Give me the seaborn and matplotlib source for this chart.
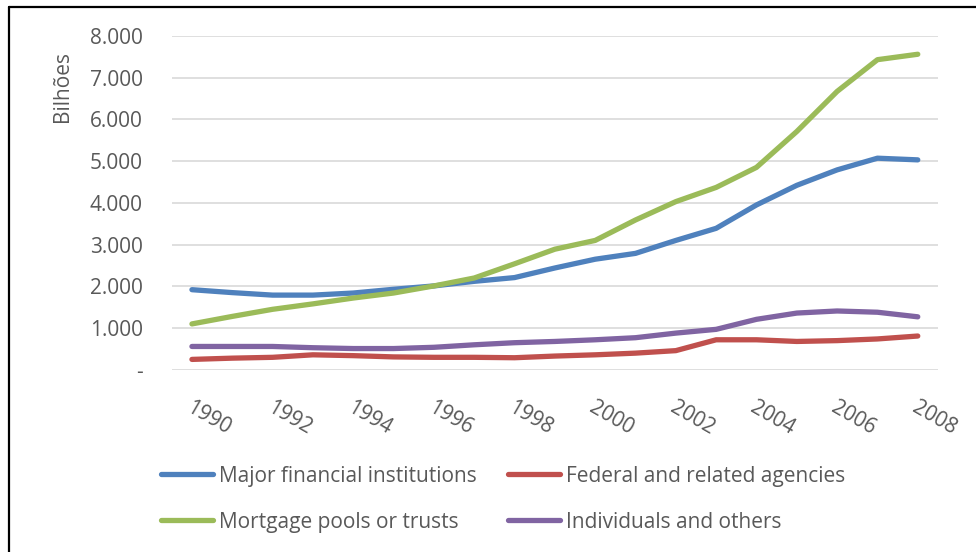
import pandas as pd
import seaborn as sns
import matplotlib.pyplot as plt
from matplotlib.lines import Line2D
from matplotlib.ticker import FuncFormatter, MultipleLocator
from matplotlib.transforms import ScaledTranslation

# Values (billions)
years = list(range(1990, 2009))
major_financial = [1920, 1850, 1790, 1790, 1840, 1930, 2010, 2120, 2210, 2440,
                   2650, 2790, 3100, 3390, 3950, 4420, 4790, 5070, 5030]
federal_agencies = [250, 280, 300, 360, 340, 310, 300, 300, 290, 330,
                    360, 400, 460, 720, 720, 680, 700, 740, 810]
mortgage_pools = [1100, 1280, 1450, 1580, 1720, 1840, 2010, 2200, 2540, 2890,
                  3100, 3590, 4030, 4370, 4850, 5710, 6670, 7430, 7560]
individuals = [560, 560, 560, 530, 510, 510, 540, 600, 650, 680,
               720, 770, 880, 970, 1210, 1360, 1410, 1380, 1270]

series_names = ['Major financial institutions', 'Federal and related agencies',
                'Mortgage pools or trusts', 'Individuals and others']
colors = ['#4F81BD', '#C0504D', '#9BBB59', '#8064A2']

df = pd.DataFrame({
    'year': years * 4,
    'value': major_financial + federal_agencies + mortgage_pools + individuals,
    'series': [n for n in series_names for _ in years],
})

sns.set_theme(style='white')
plt.rcParams['font.family'] = ['Open Sans', 'DejaVu Sans']

fig, ax = plt.subplots(figsize=(9.76, 5.52), dpi=100)
fig.subplots_adjust(left=0.176, right=0.961, bottom=0.33, top=0.935)

sns.lineplot(data=df, x='year', y='value', hue='series', hue_order=series_names,
             palette=colors, linewidth=3.8, ax=ax, legend=False,
             solid_capstyle='round')

ax.set_xlim(1989.5, 2008.5)
ax.set_ylim(0, 8000)
ax.yaxis.set_major_locator(MultipleLocator(1000))
ax.set_xticks(years[::2])
ax.yaxis.set_major_formatter(FuncFormatter(
    lambda v, p: '-' if v == 0 else f'{int(v):,}'.replace(',', '.')))
ax.grid(axis='y', color='#D9D9D9', linewidth=1.2)
ax.set_axisbelow(True)
for s in ax.spines.values():
    s.set_visible(False)
ax.set_xlabel('')
ax.set_ylabel('')
ax.tick_params(axis='y', length=0, pad=21, labelsize=15, labelcolor='#595959')
ax.tick_params(axis='x', length=0, pad=20, labelsize=15, labelcolor='#595959')
shift = ScaledTranslation(1 / 100, 0, fig.dpi_scale_trans)
for lab in ax.get_xticklabels():
    lab.set_rotation(-30)
    lab.set_ha('left')
    lab.set_va('top')
    lab.set_rotation_mode('anchor')
    lab.set_transform(lab.get_transform() + shift)

fig.text(62 / 976, 1 - 86 / 552, 'Bilhões', rotation=90, ha='center', va='center',
         fontsize=15, color='#595959')

# legend fills column-first, so order entries to read row by row
order = [0, 2, 1, 3]
handles = [Line2D([0], [0], color=colors[i], linewidth=3.8, solid_capstyle='round')
           for i in order]
labels = [series_names[i] for i in order]
fig.legend(handles, labels, ncol=2, loc='upper left',
           bbox_to_anchor=(142 / 976, 1 - 447 / 552), frameon=False, fontsize=15,
           handlelength=2.5, handletextpad=0.3, columnspacing=1.5, labelspacing=1.2,
           labelcolor='#595959')

# outer frame (only top and left edges visible in the reference)
fig.add_artist(Line2D([9 / 976, 1.0], [1 - 7 / 552, 1 - 7 / 552], color='black',
                      linewidth=1.6, transform=fig.transFigure))
fig.add_artist(Line2D([9 / 976, 9 / 976], [0, 1 - 7 / 552], color='black',
                      linewidth=1.6, transform=fig.transFigure))

fig.savefig('out.png', dpi=100)
